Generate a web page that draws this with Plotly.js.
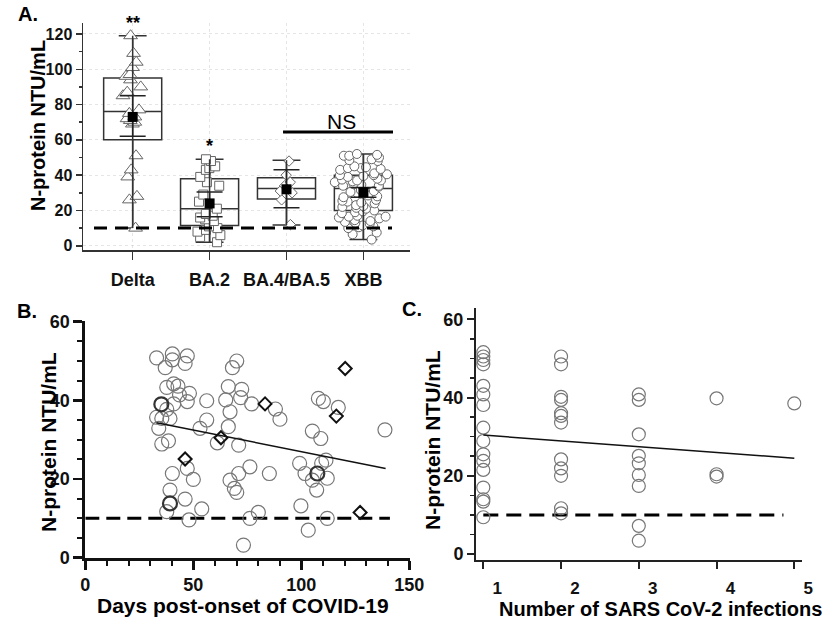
<!DOCTYPE html>
<html><head><meta charset="utf-8">
<script src="https://cdn.plot.ly/plotly-3.0.1.min.js"></script>
<style>html,body{margin:0;padding:0;background:#fff}#chart{width:837px;height:621px}</style>
</head><body><div id="chart"></div>
<script>
// ---------- Panel A data ----------
const variants = ['Delta', 'BA.2', 'BA.4/BA.5', 'XBB'];
const deltaVals = [119,109,104,101,97,96,94,90,87,85,77,75,73,72,71,70,69,51,43,39,28,26,10];
const ba2Vals = [49,48,45,44,43,39,36,34,29,25,21,18,17,16,15,14,11,10,9,8,6,5,2];
const ba45Vals = [48,40,36,34,31,30,26,12];
const xbbVals = [52,51.5,51,51,50, 49,48.5,48, 45,44.5,44,44,43.5,43, 41,40.5,40,40,39.5,39,
  38,37.5,37,37,36.5,36, 35,34.5,34,34,33.5, 31.5,31,30.5,30, 28.5,28,27.5, 26,25.5,25,24.5,24,
  23,22.5,22,21.5,21, 20,19.5,19,18.5, 17,16.5,16.5,16,15.5, 14.5,14,13.5,13,12.5, 11.5,11,10.5,10, 7.5,6.5, 3.5];
const boxQ1 = [60, 11.5, 26.5, 20];
const boxMedian = [76, 21, 32.5, 32.5];
const boxQ3 = [95, 38, 38.5, 40];
const boxLow = [10, 2, 11.7, 3.5];
const boxHigh = [119, 49, 48.5, 52];
const groupMean = [73, 24, 32, 30.3];
const ciLow = [62, 16.5, 21.5, 27.5];
const ciHigh = [85, 30.5, 43, 33];
const sigText = ['**', '*'];
const sigY = [126, 56.5];
const detectionLimit = 10;

// ---------- Panel B data ----------
const bDays = [33,40.3,40.3,47.2,46.2,37,37.7,40.9,42.9,43.6,48.2,40.9,47.2,37.7,33,35.4,39.2,34,35.4,38.5,
  40.3,39.2,37.7,47.2,50,46.2,48,53.9,53.1,56.2,56.2,61.1,66.2,65,67,66.2,70.1,68.1,72.4,71.9,71,67,71,69,70.1,
  76.2,77,76.2,80.1,73.2,85.2,88,90.1,99.2,99.8,101.7,103.2,105.1,109,105.1,107.1,107.9,110.2,109.4,111.4,112,112,117.1,138.7];
const bNtu = [50.8,51.8,50.3,51.3,49.4,48.3,43.3,44.2,43.6,41.4,41.8,39.1,39.7,37.7,35.7,35.4,35.4,32.9,28.9,29.7,
  21.4,17.2,11.7,22.7,19.9,14.9,9.6,12.4,32.9,35,39.9,29.2,43.5,40.1,37.1,33.3,50,48.3,42.8,40.7,28.6,19.7,21.4,17.6,16.6,
  23.1,39.1,10,11.5,3.2,21.4,37.8,35.2,24,13.2,21.4,7,32.2,30.3,19.7,17.2,40.5,39.7,24,24.8,20.2,10,38.2,32.5];
const bBoldDays = [35.2, 39.2, 107.4];
const bBoldNtu = [39.0, 13.8, 21.4];
const bDiamondDays = [46.2, 62.8, 83.2, 120.3, 116.2, 127.2];
const bDiamondNtu = [25.1, 30.5, 39.1, 48.1, 36.0, 11.5];
const bFitDays = [33, 139];
const bFitNtu = [34.3, 22.7];
const bLimitDays = [0, 141];

// ---------- Panel C data ----------
const infectionCounts = [1, 2, 3, 4, 5];
const cNtuByCount = [
  [51.6,50.5,49.6,48.5,43.0,40.8,38.1,32.3,28.9,25.5,23.8,21.5,17.0,14.0,13.4,9.4],
  [50.5,48.5,40.2,39.4,36.0,35.3,33.6,24.2,21.9,20.0,11.7,10.4],
  [40.8,39.4,30.6,25.1,23.2,20.2,17.4,7.2,3.4],
  [39.8,20.4,19.8],
  [38.5]
];
const cFitCount = [1, 5];
const cFitNtu = [30.4, 24.5];
const cLimitCount = [1, 4.86];

// ---------- helpers ----------
const W = 837, H = 621;
const fx = p => p / W, fy = p => 1 - p / H;
const FONT = 'Liberation Sans, Arial, sans-serif';
const bold = (size, color) => ({family: FONT, size: size, color: color || '#111', weight: 'bold'});

const pointStyles = [
  {symbol: 'triangle-up', size: 12, jitter: 0.35},
  {symbol: 'square', size: 9, jitter: 0.55},
  {symbol: 'diamond', size: 8, jitter: 0.3},
  {symbol: 'circle', size: 9, jitter: 1.0}
];
const groupVals = [deltaVals, ba2Vals, ba45Vals, xbbVals];

const traces = [];
traces.push({type: 'box', x: variants, q1: boxQ1, median: boxMedian, q3: boxQ3,
  lowerfence: boxLow, upperfence: boxHigh, boxpoints: false, width: 0.755, whiskerwidth: 0.48,
  line: {color: '#333', width: 1.5}, fillcolor: 'rgba(0,0,0,0)', hoverinfo: 'skip', showlegend: false,
  xaxis: 'x', yaxis: 'y'});
groupVals.forEach((vals, i) => {
  traces.push({type: 'box', x: vals.map(() => variants[i]), y: vals, boxpoints: 'all',
    jitter: pointStyles[i].jitter, pointpos: 0, width: 0.755,
    line: {width: 0, color: 'rgba(0,0,0,0)'}, fillcolor: 'rgba(0,0,0,0)',
    marker: {symbol: pointStyles[i].symbol, size: pointStyles[i].size, color: '#fff',
      line: {color: '#666', width: 1}},
    hoverinfo: 'skip', showlegend: false, xaxis: 'x', yaxis: 'y'});
});
traces.push({type: 'scatter', mode: 'markers', x: variants, y: boxLow,
  marker: {size: 1, color: 'rgba(0,0,0,0)'},
  error_y: {type: 'data', symmetric: false, array: boxHigh.map((h, i) => h - boxLow[i]),
    arrayminus: boxLow.map(() => 0), width: 0, thickness: 1.5, color: '#333'},
  hoverinfo: 'skip', showlegend: false, xaxis: 'x', yaxis: 'y'});
traces.push({type: 'scatter', mode: 'markers', x: variants, y: groupMean,
  marker: {symbol: 'square', size: 10, color: '#000'},
  error_y: {type: 'data', symmetric: false, array: ciHigh.map((h, i) => h - groupMean[i]),
    arrayminus: ciLow.map((l, i) => groupMean[i] - l), width: 13, thickness: 1.5, color: '#222'},
  hoverinfo: 'skip', showlegend: false, xaxis: 'x', yaxis: 'y'});

traces.push({type: 'scatter', mode: 'lines', x: bLimitDays, y: bLimitDays.map(() => detectionLimit),
  line: {color: '#000', width: 3, dash: '14px,7px'}, showlegend: false, hoverinfo: 'skip', xaxis: 'x2', yaxis: 'y2'});
traces.push({type: 'scatter', mode: 'markers', x: bDays, y: bNtu,
  marker: {symbol: 'circle-open', size: 14, color: '#777', line: {width: 1.2}},
  showlegend: false, hoverinfo: 'skip', xaxis: 'x2', yaxis: 'y2'});
traces.push({type: 'scatter', mode: 'markers', x: bBoldDays, y: bBoldNtu,
  marker: {symbol: 'circle-open', size: 14, color: '#333', line: {width: 2.2}},
  showlegend: false, hoverinfo: 'skip', xaxis: 'x2', yaxis: 'y2'});
traces.push({type: 'scatter', mode: 'markers', x: bDiamondDays, y: bDiamondNtu,
  marker: {symbol: 'diamond-open', size: 10, color: '#111', line: {width: 2}},
  showlegend: false, hoverinfo: 'skip', xaxis: 'x2', yaxis: 'y2'});
traces.push({type: 'scatter', mode: 'lines', x: bFitDays, y: bFitNtu,
  line: {color: '#111', width: 1.5}, showlegend: false, hoverinfo: 'skip', xaxis: 'x2', yaxis: 'y2'});

const cX = [], cY = [];
cNtuByCount.forEach((vals, i) => vals.forEach(v => { cX.push(infectionCounts[i]); cY.push(v); }));
traces.push({type: 'scatter', mode: 'lines', x: cLimitCount, y: cLimitCount.map(() => detectionLimit),
  line: {color: '#000', width: 3, dash: '15px,8px'}, showlegend: false, hoverinfo: 'skip', xaxis: 'x3', yaxis: 'y3'});
traces.push({type: 'scatter', mode: 'markers', x: cX, y: cY,
  marker: {symbol: 'circle-open', size: 13, color: '#777', line: {width: 1.2}},
  showlegend: false, hoverinfo: 'skip', xaxis: 'x3', yaxis: 'y3'});
traces.push({type: 'scatter', mode: 'lines', x: cFitCount, y: cFitNtu,
  line: {color: '#111', width: 1.5}, showlegend: false, hoverinfo: 'skip', xaxis: 'x3', yaxis: 'y3'});

const gridStyle = {showgrid: true, gridcolor: 'rgba(180,180,180,0.35)', gridwidth: 1, griddash: 'dot'};
const ann = (text, x, y, font, extra) => Object.assign({text: text, xref: 'paper', yref: 'paper',
  x: fx(x), y: fy(y), xanchor: 'center', yanchor: 'middle', showarrow: false, font: font}, extra || {});

const layout = {
  width: W, height: H, margin: {l: 0, r: 0, t: 0, b: 0},
  paper_bgcolor: '#fff', plot_bgcolor: '#fff', showlegend: false,
  font: {family: FONT, color: '#111'},
  boxmode: 'overlay',
  xaxis: Object.assign({domain: [fx(83), fx(410)], anchor: 'y', type: 'category',
    range: [-0.646, 3.606], showline: true, linecolor: '#333', linewidth: 1.5,
    ticks: 'outside', ticklen: 8, tickwidth: 1.5, tickcolor: '#333', ticklabelstandoff: 5,
    tickfont: bold(18), zeroline: false}, gridStyle),
  yaxis: Object.assign({domain: [fy(250), fy(23)], anchor: 'x', range: [-2.4, 126.2],
    tick0: 0, dtick: 20, showline: true, linecolor: '#333', linewidth: 1.5,
    ticks: 'outside', ticklen: 6, tickwidth: 1.5, tickcolor: '#333',
    minor: {dtick: 10, ticks: 'outside', ticklen: 3, tickcolor: '#333', showgrid: false},
    tickfont: bold(16), zeroline: false}, gridStyle),
  xaxis2: {domain: [fx(85.3), fx(410)], anchor: 'y2', range: [0, 150.3], tick0: 0, dtick: 50,
    showline: true, linecolor: '#111', linewidth: 3, ticks: 'outside', ticklen: 9, tickwidth: 2.5, tickcolor: '#111',
    minor: {dtick: 10, ticks: 'outside', ticklen: 5, tickwidth: 2, tickcolor: '#111'},
    showgrid: false, zeroline: false, tickfont: bold(18), ticklabelstandoff: 0},
  yaxis2: {domain: [fy(557.7), fy(320.7)], anchor: 'x2', range: [0, 60.25], tick0: 0, dtick: 20,
    showline: true, linecolor: '#111', linewidth: 3, ticks: 'outside', ticklen: 9, tickwidth: 2.5, tickcolor: '#111',
    minor: {dtick: 5, ticks: 'outside', ticklen: 5, tickwidth: 2, tickcolor: '#111'},
    showgrid: false, zeroline: false, tickfont: bold(18)},
  xaxis3: {domain: [fx(476), fx(801.7)], anchor: 'y3', range: [0.906, 5.095], tickvals: infectionCounts,
    showline: true, linecolor: '#222', linewidth: 2, ticks: 'outside', ticklen: 7, tickwidth: 2, tickcolor: '#222',
    showgrid: false, zeroline: false, tickfont: bold(17), ticklabelshift: 14, ticklabelstandoff: 5},
  yaxis3: {domain: [fy(560), fy(308)], anchor: 'x3', range: [-1.53, 62.9], tickvals: [0, 20, 40, 60],
    showline: true, linecolor: '#222', linewidth: 2, ticks: 'outside', ticklen: 7, tickwidth: 2, tickcolor: '#222',
    minor: {tickvals: [5,10,15,25,30,35,45,50,55], ticks: 'outside', ticklen: 4, tickwidth: 1.5, tickcolor: '#222'},
    showgrid: false, zeroline: false, tickfont: bold(18)},
  shapes: [
    {type: 'line', xref: 'x', yref: 'y', x0: -0.503, x1: 3.372, y0: detectionLimit, y1: detectionLimit,
      line: {color: '#000', width: 3, dash: '13px,8px'}},
    {type: 'line', xref: 'x', yref: 'y', x0: 1.955, x1: 3.385, y0: 64.5, y1: 64.5,
      line: {color: '#000', width: 3}}
  ],
  annotations: [
    ann('A.', 28, 14, bold(20, '#000')),
    ann('B.', 27, 311, bold(20, '#000')),
    ann('C.', 412, 309, bold(20, '#000')),
    ann('N-protein NTU/mL', 38, 126, bold(20, '#000'), {textangle: -90}),
    ann('N-protein NTU/mL', 48, 442, bold(21, '#000'), {textangle: -90}),
    ann('N-protein NTU/mL', 432, 440, bold(21, '#000'), {textangle: -90}),
    ann('Days post-onset of COVID-19', 243, 605, bold(21, '#000')),
    ann('Number of SARS CoV-2 infections', 660, 609, bold(20, '#000')),
    {text: sigText[0], xref: 'x', yref: 'y', x: 0, y: sigY[0], xanchor: 'center', yanchor: 'middle', showarrow: false, font: bold(18, '#000')},
    {text: sigText[1], xref: 'x', yref: 'y', x: 1, y: sigY[1], xanchor: 'center', yanchor: 'middle', showarrow: false, font: bold(18, '#000')},
    {text: 'NS', xref: 'x', yref: 'y', x: 2.709, y: 70.4, xanchor: 'center', yanchor: 'middle', showarrow: false, font: {family: FONT, size: 21, color: '#000'}}
  ]
};

Plotly.newPlot('chart', traces, layout, {staticPlot: true, displayModeBar: false});
</script></body></html>
